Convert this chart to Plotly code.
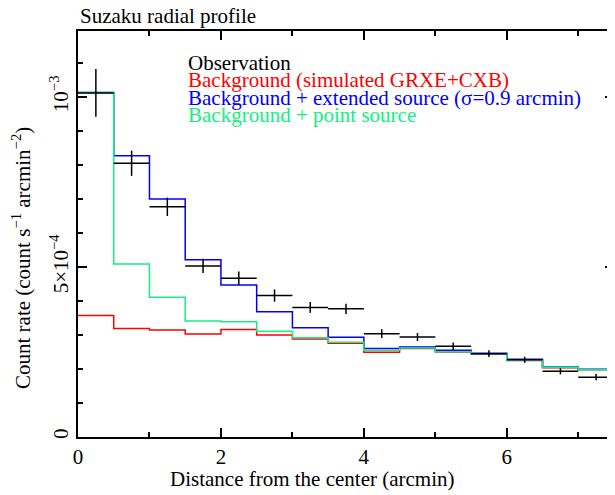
import plotly.graph_objects as go

# ---- data ----
bin_edges = [0.0, 0.5, 1.0, 1.5, 2.0, 2.5, 3.0, 3.5, 4.0, 4.5, 5.0, 5.5, 6.0, 6.5, 7.0, 7.5]
obs_x = [0.25, 0.75, 1.25, 1.75, 2.25, 2.75, 3.25, 3.75, 4.25, 4.75, 5.25, 5.75, 6.25, 6.75, 7.25]
obs_xerr = [0.25] * 15
obs_y = [1.012e-3, 0.805e-3, 0.677e-3, 0.503e-3, 0.467e-3, 0.416e-3, 0.381e-3, 0.377e-3,
         0.304e-3, 0.294e-3, 0.267e-3, 0.245e-3, 0.227e-3, 0.193e-3, 0.176e-3]
obs_yerr = [0.070e-3, 0.037e-3, 0.027e-3, 0.021e-3, 0.020e-3, 0.018e-3, 0.016e-3, 0.015e-3,
            0.013e-3, 0.012e-3, 0.011e-3, 0.010e-3, 0.009e-3, 0.009e-3, 0.009e-3]
bkg = [0.357e-3, 0.319e-3, 0.315e-3, 0.303e-3, 0.316e-3, 0.300e-3, 0.288e-3, 0.276e-3,
       0.249e-3, 0.260e-3, 0.250e-3, 0.243e-3, 0.225e-3, 0.204e-3, 0.198e-3]
ext = [1.013e-3, 0.827e-3, 0.700e-3, 0.521e-3, 0.447e-3, 0.368e-3, 0.321e-3, 0.293e-3,
       0.260e-3, 0.265e-3, 0.255e-3, 0.246e-3, 0.229e-3, 0.206e-3, 0.199e-3]
pnt = [1.013e-3, 0.509e-3, 0.411e-3, 0.341e-3, 0.339e-3, 0.311e-3, 0.292e-3, 0.279e-3,
       0.255e-3, 0.262e-3, 0.251e-3, 0.244e-3, 0.226e-3, 0.205e-3, 0.198e-3]

x_tickvals = [0, 2, 4, 6]
x_ticktext = ["0", "2", "4", "6"]
y_tickvals = [0, 5e-4, 1e-3]
y_ticktext = ["0", "5×10<sup>−4</sup>", "10<sup>−3</sup>"]

GREEN = "#12f082"
legend_lines = [
    ("Observation", "black"),
    ("Background (simulated GRXE+CXB)", "#ff0000"),
    ("Background + extended source (σ=0.9 arcmin)", "#0000ff"),
    ("Background + point source", GREEN),
]

FONT = "Liberation Serif"
FS = 21

fig = go.Figure()

def step(vals, color):
    fig.add_trace(go.Scatter(x=bin_edges, y=list(vals) + [vals[-1]], mode="lines",
                             line=dict(color=color, width=1.5, shape="hv"),
                             showlegend=False, hoverinfo="skip"))

step(bkg, "#ff0000")
step(ext, "#0000ff")
step(pnt, GREEN)

fig.add_trace(go.Scatter(
    x=obs_x, y=obs_y, mode="markers", marker=dict(size=1, color="black"),
    error_x=dict(type="data", array=obs_xerr, color="black", thickness=1.5, width=0),
    error_y=dict(type="data", array=obs_yerr, color="black", thickness=1.5, width=0),
    showlegend=False))

# page has an 8px body margin; compensate
OFF = 8
PAGE_W, PAGE_H = 615, 495
W, H = PAGE_W - OFF, PAGE_H - OFF
# plot area in page pixels: x 78..614, y 31..437
L = 78 - OFF
T = 31 - OFF
R = PAGE_W - 614
B = PAGE_H - 437
pw, ph = W - L - R, H - T - B

def px(x):  # page px -> paper
    return (x - 78) / pw

def py(y):
    return (437 - y) / ph

annotations = []
for i, (txt, col) in enumerate(legend_lines):
    annotations.append(dict(text=txt, x=px(186), y=py(63 + i * 17.3), xref="paper", yref="paper",
                            xanchor="left", yanchor="middle", showarrow=False,
                            font=dict(family=FONT, size=FS, color=col)))
annotations.append(dict(text="Suzaku radial profile", x=px(78), y=py(16), xref="paper", yref="paper",
                        xanchor="left", yanchor="middle", showarrow=False,
                        font=dict(family=FONT, size=FS, color="black")))
annotations.append(dict(text="Distance from the center (arcmin)", x=px(312), y=py(479),
                        xref="paper", yref="paper", xanchor="center", yanchor="middle",
                        showarrow=False, font=dict(family=FONT, size=FS, color="black")))
annotations.append(dict(text="Count rate (count s<sup>−1</sup> arcmin<sup>−2</sup>)", x=px(22), y=py(258),
                        xref="paper", yref="paper", xanchor="center", yanchor="middle",
                        textangle=-90, showarrow=False,
                        font=dict(family=FONT, size=FS, color="black")))

axis_common = dict(showgrid=False, zeroline=False, showline=True, linecolor="black", linewidth=1.5,
                   mirror="allticks", ticks="inside", ticklen=9, tickwidth=1.5, tickcolor="black",
                   tickfont=dict(family=FONT, size=FS, color="black"))

fig.update_layout(
    width=W, height=H, margin=dict(l=L, r=R, t=T, b=B, autoexpand=False),
    paper_bgcolor="white", plot_bgcolor="white",
    xaxis=dict(range=[0, 7.5], tickmode="array", tickvals=x_tickvals, ticktext=x_ticktext,
               minor=dict(dtick=1, ticks="inside", ticklen=5, tickwidth=1.5, tickcolor="black"),
               **axis_common),
    yaxis=dict(range=[0, 1.194e-3], tickmode="array", tickvals=y_tickvals, ticktext=y_ticktext,
               tickangle=-90,
               minor=dict(dtick=1e-4, ticks="inside", ticklen=5, tickwidth=1.5, tickcolor="black"),
               **axis_common),
    annotations=annotations,
    showlegend=False,
)

fig.write_html("out.html")
